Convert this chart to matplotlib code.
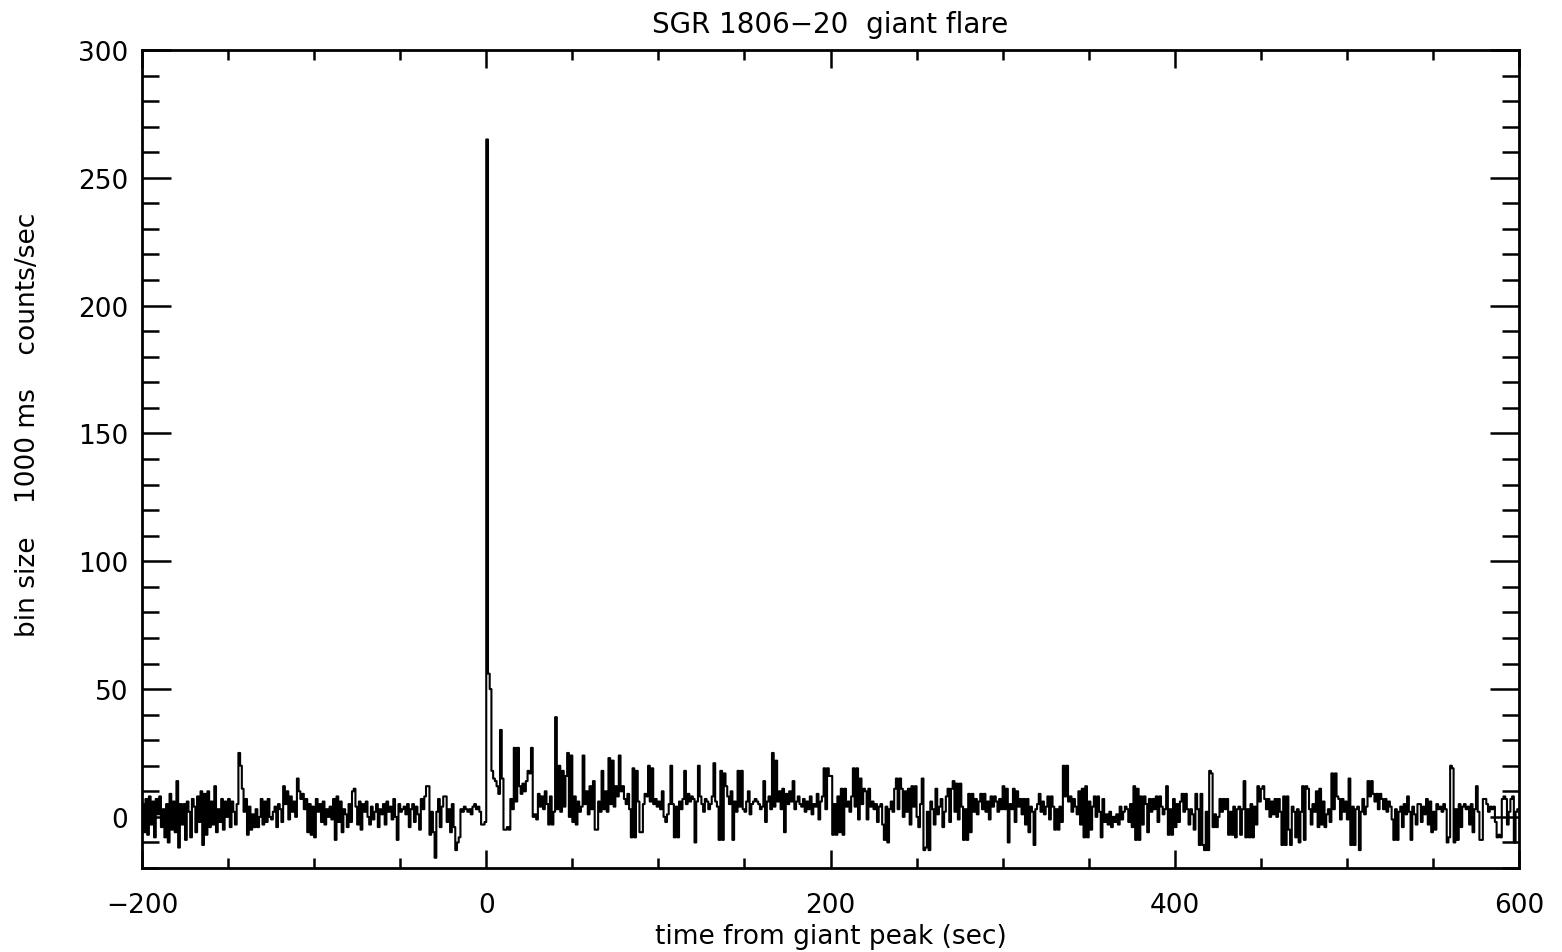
import numpy as np
import matplotlib
matplotlib.use("Agg")
import matplotlib.pyplot as plt
from matplotlib.ticker import MultipleLocator

# background-subtracted count rate, 1 s bins, starting at t = -200 s
counts_pre = [
    5, -6, 7, -7, 8, -3, 6, -8, 7, 1,
    8, -4, 3, -8, 5, -10, 9, -5, 6, -6,
    14, -12, 5, -3, 5, -9, 6, 2, -8, 7,
    4, -6, 8, -2, 10, -11, 9, -7, 10, -4,
    6, -3, 12, -6, 3, -2, 7, -5, 6, 0,
    7, -4, 6, 2, -3, 5, 25, 20, 11, 2,
    7, -7, 4, -5, 1, -4, 3, -4, 0, 7,
    -3, 6, -2, 7, 0, -1, 2, 4, -4, 5,
    3, -2, 12, 5, 10, -1, 8, 2, 6, 0,
    15, 10, 7, 9, 3, 7, -6, 5, -7, 4,
    -8, 7, 2, 5, -2, 6, -3, 3, 0, 4,
    -1, 7, -9, 8, -2, 6, -6, 3, 1, -4,
    5, -2, 10, 11, 4, -3, 6, -5, 5, 2,
    6, 0, -3, 4, -1, 2, 5, -4, 3, 1,
    5, -3, 6, 2, 4, -1, 7, 0, -9, 5,
    2, 3, 4, 1, 5, -4, 3, 5, -2, 4,
    1, -5, 7, 3, 8, 12, 12, -7, 2, -6,
    -16, 2, 7, -4, 4, 8, 8, -2, 3, -6,
    5, -4, -13, -10, -8, 3, 2, 4, 3, 2,
    3, 1, 4, 5, 3, 4, 2, -3, -3, -2,
]
counts_flare = [
    265, 56, 50, 18, 15, 14, 12, 9, 34, 15,
    -5, -5, -4, -5, 7, 3, 27, 6, 27, 12,
    9, 13, 10, 14, 18, 17, 27, 0, 1, -1,
    9, 4, 8, 3, 10, 5, -3, 8, -3, 2,
    39, 3, 20, 2, 18, 4, 16, 25, 0, 24,
    -2, 8, -3, 6, 2, 4, 24, 5, 10, 1,
    12, 3, 14, -5, -5, 6, 2, 18, 3, 10,
    2, 23, 5, 22, 4, 12, 8, 24, 10, 12,
    7, 5, 9, 3, -8, 19, -8, 18, 6, -6,
    -6, 5, 9, 8, 20, 6, 19, 5, 7, 4,
    6, 3, 10, 0, -2, 1, 5, 20, 5, -8,
    4, -8, 6, 3, 7, 18, 5, 9, 6, 8,
    7, -10, 6, 20, 8, 5, 2, 7, 6, 3,
    5, 8, 21, 6, 4, -9, 18, -9, 17, 12,
    8, 5, 10, -9, 6, 2, 18, 4, 18, 3,
    2, 6, 10, 1, 5, 6, 7, 6, 5, 3,
    4, 14, -2, 6, 8, 3, 25, 4, 22, 6,
    10, 3, 11, -6, 9, 5, 10, 6, 14, 3,
    6, 8, 5, 4, 7, 2, 6, 3, 8, 1,
    5, 4, 9, -1, 6, 8, 19, 3, 19, 16,
]
counts_tail1 = [
    16, -7, 5, -7, 8, -6, 11, -7, 11, 4,
    6, 2, 8, 19, 4, 19, -1, 15, 5, 11,
    10, -1, 11, 4, 6, 3, 5, -2, 4, 5,
    -3, -9, 4, -10, 3, 6, 2, 11, 15, 3,
    15, 11, 0, 10, 2, 11, -3, 12, 4, 12,
    0, -4, 5, 15, -13, -12, 2, -13, 6, 3,
    -3, 11, 1, 4, 7, -4, 2, 8, 11, -2,
    11, 14, 2, 13, -1, 13, 4, -9, 3, -9,
    9, -6, 9, 2, 7, 1, 6, 9, 3, 9,
    2, 6, -1, 8, 4, 8, 6, 2, 7, 3,
    12, 3, 11, -10, 5, 3, 11, -2, 10, 4,
    7, 1, 7, -3, 7, -6, 4, 2, -11, 3,
    5, 9, 2, 6, 1, 4, 8, -1, 8, 4,
    -5, 3, -5, 4, -2, 20, 8, 20, 6, 8,
    2, 7, 4, 1, 10, -3, 11, -8, 12, -8,
    6, -5, 4, 8, 0, 8, 2, -8, 7, -2,
    1, -3, 2, -4, 0, -2, 1, -3, 4, -1,
    2, 4, 3, -2, 5, -4, 12, -9, 11, -9,
    8, -3, 8, 5, -6, 7, 2, 7, 3, 8,
    -2, 8, 4, 1, 3, 12, -7, 3, -7, 7,
]
counts_tail2 = [
    -4, 5, -2, 6, 9, 2, 9, 3, -3, 3,
    1, -5, 9, 3, -11, 9, -11, -13, 2, -13,
    18, 17, -4, 1, -4, 0, 7, 2, 7, 3,
    7, -7, 2, -7, 4, -8, 3, 4, -7, 3,
    14, -8, 3, -8, 5, -8, 4, -3, 12, 6,
    11, 12, 7, 3, 7, 0, 6, 1, 7, 0,
    7, 2, -11, 8, -11, 8, -5, -11, 4, 2,
    -8, 3, -10, 2, 12, -9, 12, 11, 3, -3,
    5, 2, 10, -4, 11, -3, 6, -4, 1, 3,
    -2, 17, 3, 17, 8, 7, -1, 7, 2, 6,
    -1, 15, -11, 4, -11, 3, 4, -13, 2, 7,
    1, 4, 14, 8, 14, 9, 6, 9, 3, 9,
    7, 3, 7, 2, 6, 4, -1, -9, 3, -9,
    2, 4, -4, 5, 1, 8, 2, -9, 4, 1,
    -3, 5, 5, -2, 4, 1, 7, -3, 6, -6,
    2, -5, 5, 3, 4, 2, 5, 3, -10, -8,
    20, 19, -10, 3, -9, 5, -4, 4, 5, 3,
    4, -3, 5, -6, 3, 12, 2, -9, -9, 7,
    7, 5, 2, 4, 3, 4, -2, -8, -7, -8,
    7, 8, 7, -3, 2, 7, 8, -10, 2, 3,
]
t_start = -200
title = "SGR 1806\u221220  giant flare"
xlabel = "time from giant peak (sec)"
ylabel = "bin size    1000 ms    counts/sec"

counts = np.array(counts_pre + counts_flare + counts_tail1 + counts_tail2, dtype=float)
t = t_start + np.arange(len(counts))

plt.rcParams['font.family'] = ['DejaVu Sans']
fig = plt.figure(figsize=(15.62, 9.53), dpi=100)
ax = fig.add_axes([142/1562, 1-869/953, (1519-142)/1562, (869-51)/953])

ax.step(np.append(t, t[-1] + 1), np.append(counts, counts[-1]), where='post',
        color='black', lw=1.5)

ax.set_xlim(-200, 600)
ax.set_ylim(-20, 300)
ax.xaxis.set_major_locator(MultipleLocator(200))
ax.xaxis.set_minor_locator(MultipleLocator(50))
ax.yaxis.set_major_locator(MultipleLocator(50))
ax.yaxis.set_minor_locator(MultipleLocator(10))

ax.tick_params(axis='x', which='major', direction='in', length=13, width=1.8,
               top=True, bottom=True, labelsize=19, pad=17)
ax.tick_params(axis='x', which='minor', direction='in', length=7, width=1.8,
               top=True, bottom=True)
ax.tick_params(axis='y', which='major', direction='in', length=21, width=1.8,
               left=True, right=True, labelsize=19, pad=10)
ax.tick_params(axis='y', which='minor', direction='in', length=12, width=1.8,
               left=True, right=True)
for s in ax.spines.values():
    s.set_linewidth(2.0)

fig.text((142+1519)/2/1562, 1-25/953, title, ha='center', va='center', fontsize=20)
fig.text((142+1519)/2/1562, 1-937/953, xlabel, ha='center', va='center', fontsize=19)
fig.text(28/1562, 1-425/953, ylabel, ha='center', va='center', rotation=90, fontsize=19)

fig.savefig("out.png", dpi=100, facecolor='white')
